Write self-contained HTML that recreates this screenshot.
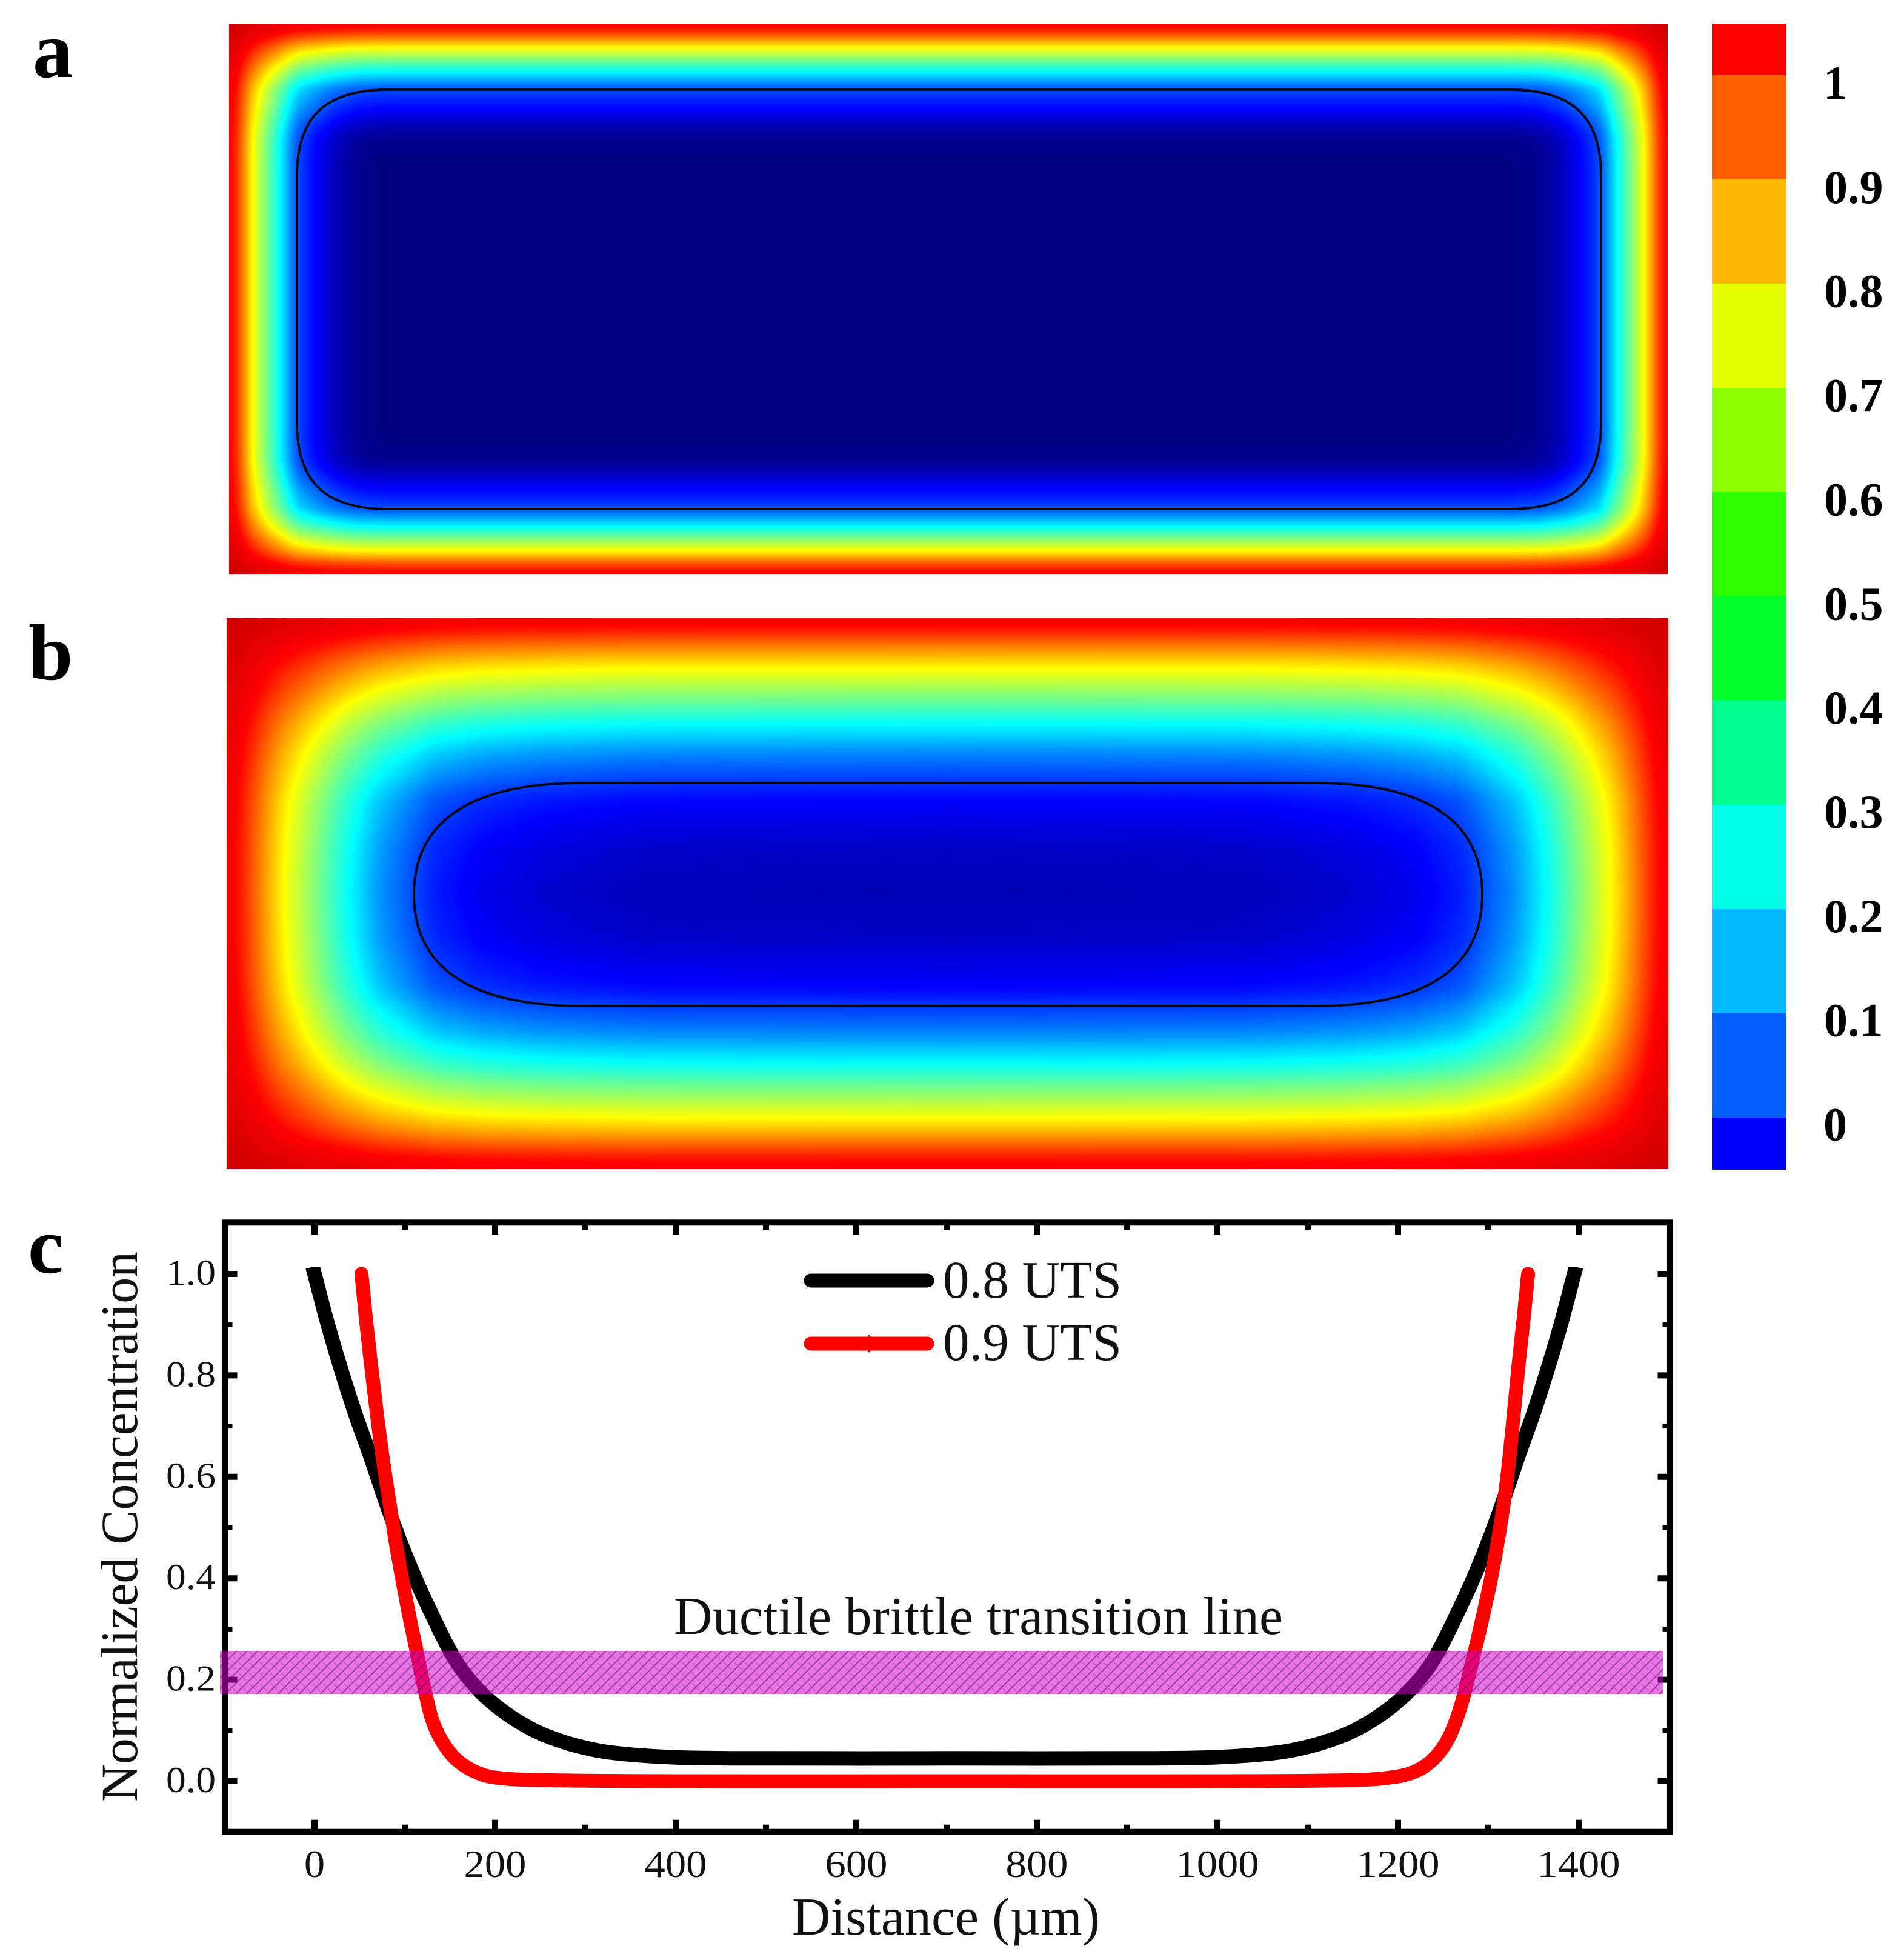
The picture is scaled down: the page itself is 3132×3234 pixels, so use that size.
<!DOCTYPE html>
<html lang="en">
<head>
<meta charset="utf-8">
<title>Concentration maps and profiles</title>
<style>
html,body{margin:0;padding:0;background:#fff;width:3132px;height:3234px;overflow:hidden}
#stage{position:relative;width:3132px;height:3234px;background:#fff}
canvas{position:absolute;display:block}
svg{position:absolute;left:0;top:0}
text{font-family:"Liberation Serif",serif}
</style>
</head>
<body>
<div id="stage">
<canvas id="mapA" width="2374" height="907" style="left:378px;top:40px"></canvas>
<canvas id="mapB" width="2379" height="910" style="left:374px;top:1019px"></canvas>
<svg id="fig" width="3132" height="3234" viewBox="0 0 3132 3234" xmlns="http://www.w3.org/2000/svg">
<defs>
<pattern id="hatch" width="17.4" height="17.4" patternUnits="userSpaceOnUse">
<path d="M-2 19.4L19.4 -2" stroke="#3a0a3a" stroke-width="1.7" stroke-opacity=".55" fill="none"/>
<path d="M0 0L6 6M11.4 11.4L17.4 17.4" stroke="#3a0a3a" stroke-width="1.2" stroke-opacity=".32" fill="none"/>
</pattern>
<clipPath id="blackClip"><rect x="300" y="2091" width="2500" height="900"/></clipPath>
</defs>
<text x="54" y="127" font-size="132" font-weight="bold">a</text>
<text x="47" y="1121" font-size="132" font-weight="bold">b</text>
<text x="46" y="2100" font-size="132" font-weight="bold">c</text>
<path d="M640 148H2492C2597 148 2642 195 2642 290V698C2642 793 2597 840 2492 840H640C535 840 490 793 490 698V290C490 195 535 148 640 148Z" fill="none" stroke="#000814" stroke-width="4"/>
<path d="M960 1292H2171C2361 1292 2446 1360 2446 1476C2446 1592 2361 1660 2171 1660H960C770 1660 683 1592 683 1476C683 1360 770 1292 960 1292Z" fill="none" stroke="#000814" stroke-width="4"/>
<g id="colorbar"></g>
<g id="plotC"></g>
</svg>
</div>
<script>
/* jet colour scale */
const jetStops = [0, 0.11, 0.36, 0.64, 0.89, 1];
const jetReds = [0, 0, 0, 255, 255, 128];
const jetGreens = [0, 0, 255, 255, 0, 0];
const jetBlues = [128, 255, 255, 0, 0, 0];

/* panel a: level read along the depth from each edge (px) */
const aDepthX = [0, 10, 22, 38, 60, 83, 112, 142, 175, 212, 260, 1300];
const aLevelX = [0.89, 0.86, 0.77, 0.64, 0.5, 0.36, 0.18, 0.11, 0.05, 0.012, 0, 0];
const aDepthY = [0, 10, 22, 38, 58, 77, 108, 140, 165, 187, 230, 600];
const aLevelY = [0.89, 0.86, 0.77, 0.64, 0.5, 0.36, 0.18, 0.11, 0.05, 0.012, 0, 0];

/* panel b */
const bDepthX = [0, 15, 53, 89, 140, 191, 250, 309, 340, 420, 520, 700, 1300];
const bLevelX = [0.9, 0.885, 0.76, 0.64, 0.5, 0.36, 0.23, 0.15, 0.105, 0.06, 0.035, 0.015, 0.01];
const bDepthY = [0, 15, 48, 82, 128, 172, 225, 271, 300, 330, 380, 455, 600];
const bLevelY = [0.9, 0.885, 0.76, 0.64, 0.5, 0.36, 0.23, 0.15, 0.1, 0.08, 0.05, 0.035, 0.035];

/* colour bar */
const barColors = ['#ff0000','#ff5f00','#ffb900','#e6ff00','#8cff00','#2eff00','#00ff2e','#00ff8c','#00ffe6','#00b9ff','#005fff','#0000ff'];
const barLabels = ['1','0.9','0.8','0.7','0.6','0.5','0.4','0.3','0.2','0.1','0'];

/* line chart data */
const xTickLabels = [0, 200, 400, 600, 800, 1000, 1200, 1400];
const xMinorTicks = [-100, 100, 300, 500, 700, 900, 1100, 1300, 1500];
const yTickLabels = ['0.0','0.2','0.4','0.6','0.8','1.0'];
const yMinorTicks = [-0.1, 0.1, 0.3, 0.5, 0.7, 0.9, 1.1];

const uts08X = [0,14,28,45,62,80,97,114,131,150,165,186,211,235,256,290,330,400,500,700,900,995,1065,1105,1139,1160,1184,1209,1230,1245,1264,1281,1298,1315,1333,1350,1367,1381,1395];
const uts08Y = [1,0.905,0.82,0.725,0.64,0.545,0.463,0.39,0.325,0.257,0.215,0.172,0.135,0.108,0.09,0.07,0.056,0.047,0.045,0.045,0.045,0.047,0.056,0.07,0.09,0.108,0.135,0.172,0.215,0.257,0.325,0.39,0.463,0.545,0.64,0.725,0.82,0.905,1];
const uts09X = [52,57,62,68,74.5,82,90,97,105,113,123,133,150,170,197,256,400,700,1000,1150,1195,1220,1240,1256,1269,1280,1292,1303,1313,1321,1328,1334,1339,1344];
const uts09Y = [1,0.91,0.83,0.74,0.65,0.56,0.47,0.4,0.325,0.257,0.172,0.108,0.056,0.026,0.008,0.002,0,0,0,0.002,0.008,0.02,0.045,0.085,0.145,0.22,0.31,0.4,0.5,0.6,0.72,0.83,0.91,1];
const bandLow = 0.172;
const bandHigh = 0.257;

const SVGNS = 'http://www.w3.org/2000/svg';
function mk(tag, parent, attrs){
  const el = document.createElementNS(SVGNS, tag);
  for (const k in attrs) el.setAttribute(k, attrs[k]);
  parent.appendChild(el);
  return el;
}

/* ---------- heat maps ---------- */
function interp(xs, ys, v){
  if (v <= xs[0]) return ys[0];
  for (let i = 1; i < xs.length; i++){
    if (v <= xs[i]) return ys[i-1] + (ys[i]-ys[i-1])*(v-xs[i-1])/(xs[i]-xs[i-1]);
  }
  return ys[ys.length-1];
}
function lut(xs, ys, n, r){
  const raw = new Float32Array(n);
  for (let i = 0; i < n; i++) raw[i] = interp(xs, ys, i);
  const out = new Float32Array(n);
  for (let i = 0; i < n; i++){
    const rr = Math.min(r, i);
    let s = 0, c = 0;
    for (let j = i-rr; j <= i+rr; j++){
      if (j < n){ s += raw[j]; c++; }
    }
    out[i] = s/c;
  }
  return out;
}
function paintMap(id, dx, lx, dy, ly, r){
  const cv = document.getElementById(id);
  const W = cv.width, H = cv.height;
  const ctx = cv.getContext('2d');
  const img = ctx.createImageData(W, H);
  const ux = lut(dx, lx, W, r), uy = lut(dy, ly, H, r);
  const N = 1024, R = new Uint8ClampedArray(N+1), G = new Uint8ClampedArray(N+1), B = new Uint8ClampedArray(N+1);
  for (let i = 0; i <= N; i++){
    const t = i/N;
    R[i] = interp(jetStops, jetReds, t);
    G[i] = interp(jetStops, jetGreens, t);
    B[i] = interp(jetStops, jetBlues, t);
  }
  let p = 0;
  for (let y = 0; y < H; y++){
    const v = uy[Math.min(y, H-1-y)];
    for (let x = 0; x < W; x++){
      const u = ux[Math.min(x, W-1-x)];
      let t = u + v - u*v;
      if (t > 0.89) t = 0.89 + (t-0.89)*0.4;
      if (t < 0) t = 0;
      if (t > 1) t = 1;
      const k = Math.round(t*N);
      img.data[p++] = R[k];
      img.data[p++] = G[k];
      img.data[p++] = B[k];
      img.data[p++] = 255;
    }
  }
  ctx.putImageData(img, 0, 0);
}
paintMap('mapA', aDepthX, aLevelX, aDepthY, aLevelY, 8);
paintMap('mapB', bDepthX, bLevelX, bDepthY, bLevelY, 14);

/* ---------- colour bar ---------- */
const cbar = document.getElementById('colorbar');
const segH = 172, cbTop = 39, cbLeft = 2825, cbW = 123;
barColors.forEach(function(col, i){
  const top = i === 0 ? cbTop : cbTop + 85 + (i-1)*segH;
  const h = (i === 0 || i === barColors.length-1) ? 86 : segH;
  const r = mk('rect', cbar, {x: cbLeft, y: top, width: cbW, height: h, fill: col});
  
  
});
barLabels.forEach(function(lab, i){
  const t = mk('text', cbar, {x: lab.length === 1 ? 3009 : 3010, y: 163 + i*171.85, 'font-size': 78, 'font-weight': 'bold', fill: '#000'});
  t.textContent = lab;
  
  
});

/* ---------- line chart ---------- */
const plot = document.getElementById('plotC');
function xp(v){ return 519 + v*1.49; }
function yp(v){ return 2939 - v*837; }

function spline(xs, ys){
  const pts = xs.map(function(x, i){ return [xp(x), yp(ys[i])]; });
  let d = 'M' + pts[0][0].toFixed(1) + ' ' + pts[0][1].toFixed(1);
  for (let i = 0; i < pts.length-1; i++){
    const p0 = pts[Math.max(i-1, 0)], p1 = pts[i], p2 = pts[i+1], p3 = pts[Math.min(i+2, pts.length-1)];
    const len = Math.hypot(p2[0]-p1[0], p2[1]-p1[1]);
    const la = Math.hypot(p2[0]-p0[0], p2[1]-p0[1]) || 1;
    const lb = Math.hypot(p3[0]-p1[0], p3[1]-p1[1]) || 1;
    const c1x = p1[0] + (p2[0]-p0[0])/la*len/3, c1y = p1[1] + (p2[1]-p0[1])/la*len/3;
    const c2x = p2[0] - (p3[0]-p1[0])/lb*len/3, c2y = p2[1] - (p3[1]-p1[1])/lb*len/3;
    d += 'C' + c1x.toFixed(1) + ' ' + c1y.toFixed(1) + ' ' + c2x.toFixed(1) + ' ' + c2y.toFixed(1) + ' ' + p2[0].toFixed(1) + ' ' + p2[1].toFixed(1);
  }
  return d;
}

const curveBlack = mk('path', plot, {d: spline(uts08X, uts08Y), fill: 'none', stroke: '#000', 'stroke-width': 24, 'stroke-linejoin': 'round', 'stroke-linecap': 'square', 'clip-path': 'url(#blackClip)'});


const curveRed = mk('path', plot, {d: spline(uts09X, uts09Y), fill: 'none', stroke: '#ff0000', 'stroke-width': 23, 'stroke-linejoin': 'round', 'stroke-linecap': 'round'});



/* frame */
const frame = mk('rect', plot, {x: xp(-100)+1.5, y: yp(1.1)-1, width: xp(1500)-xp(-100), height: yp(-0.1)-yp(1.1)+1, fill: 'none', stroke: '#000', 'stroke-width': 10});



const fx0 = xp(-100)+1.5, fx1 = fx0 + xp(1500) - xp(-100), fy0 = yp(1.1)-1, fy1 = yp(-0.1);
function tickLine(x1, y1, x2, y2, w, name){
  const l = mk('line', plot, {x1: x1, y1: y1, x2: x2, y2: y2, stroke: '#000', 'stroke-width': w});
  
  
}
xTickLabels.forEach(function(v){
  tickLine(xp(v), fy1, xp(v), fy1-20, 10, 'x-major-tick');
  tickLine(xp(v), fy0, xp(v), fy0+20, 10, 'x-major-tick-top');
  const s = String(v);
  const t = mk('text', plot, {x: xp(v), y: 3097, 'font-size': 64, 'text-anchor': 'middle', fill: '#111', textLength: 34.3*s.length, lengthAdjust: 'spacingAndGlyphs'});
  t.textContent = s;
  
  
});
xMinorTicks.forEach(function(v){
  if (v <= -100 || v >= 1500) return;
  tickLine(xp(v), fy1, xp(v), fy1-12, 10, 'x-minor-tick');
  tickLine(xp(v), fy0, xp(v), fy0+12, 10, 'x-minor-tick-top');
});
yTickLabels.forEach(function(lab){
  const v = parseFloat(lab);
  tickLine(fx0, yp(v), fx0+20, yp(v), 10, 'y-major-tick');
  tickLine(fx1, yp(v), fx1-20, yp(v), 10, 'y-major-tick-right');
  const t = mk('text', plot, {x: 356, y: yp(v)+18, 'font-size': 60, 'text-anchor': 'end', fill: '#111', textLength: 82, lengthAdjust: 'spacingAndGlyphs'});
  t.textContent = lab;
  
  
});
yMinorTicks.forEach(function(v){
  if (v <= -0.1 || v >= 1.1) return;
  tickLine(fx0, yp(v), fx0+12, yp(v), 8, 'y-minor-tick');
  tickLine(fx1, yp(v), fx1-12, yp(v), 8, 'y-minor-tick-right');
});

/* transition band */
const bandFill = mk('rect', plot, {x: 363, y: yp(bandHigh), width: 2381, height: yp(bandLow)-yp(bandHigh), fill: '#d800d4', 'fill-opacity': 0.55});


const bandHatch = mk('rect', plot, {x: 363, y: yp(bandHigh), width: 2381, height: yp(bandLow)-yp(bandHigh), fill: 'url(#hatch)'});



const bandLabel = mk('text', plot, {x: 1112, y: 2696, 'font-size': 88, textLength: 1005, fill: '#111'});
bandLabel.textContent = 'Ductile brittle transition line';



/* axis titles */
const xTitle = mk('text', plot, {x: 1307, y: 3192, 'font-size': 88, textLength: 508, fill: '#111'});
xTitle.textContent = 'Distance (\u00b5m)';


const yTitle = mk('text', plot, {x: 0, y: 0, 'font-size': 86, textLength: 908, transform: 'translate(226 2973) rotate(-90)', fill: '#111'});
yTitle.textContent = 'Normalized Concentration';



/* legend */
const legBlack = mk('line', plot, {x1: 1338, y1: 2113, x2: 1530, y2: 2113, stroke: '#000', 'stroke-width': 23, 'stroke-linecap': 'round'});


const legRed = mk('line', plot, {x1: 1338, y1: 2217, x2: 1530, y2: 2217, stroke: '#ff0000', 'stroke-width': 23, 'stroke-linecap': 'round'});


const legMark = mk('path', plot, {d: 'M1434 2202L1446 2217L1434 2232L1422 2217Z', fill: '#ff0000'});


const legT1 = mk('text', plot, {x: 1556, y: 2141, 'font-size': 87, textLength: 295, fill: '#111'});
legT1.textContent = '0.8 UTS';


const legT2 = mk('text', plot, {x: 1556, y: 2244, 'font-size': 87, textLength: 295, fill: '#111'});
legT2.textContent = '0.9 UTS';


</script>
</body>
</html>
